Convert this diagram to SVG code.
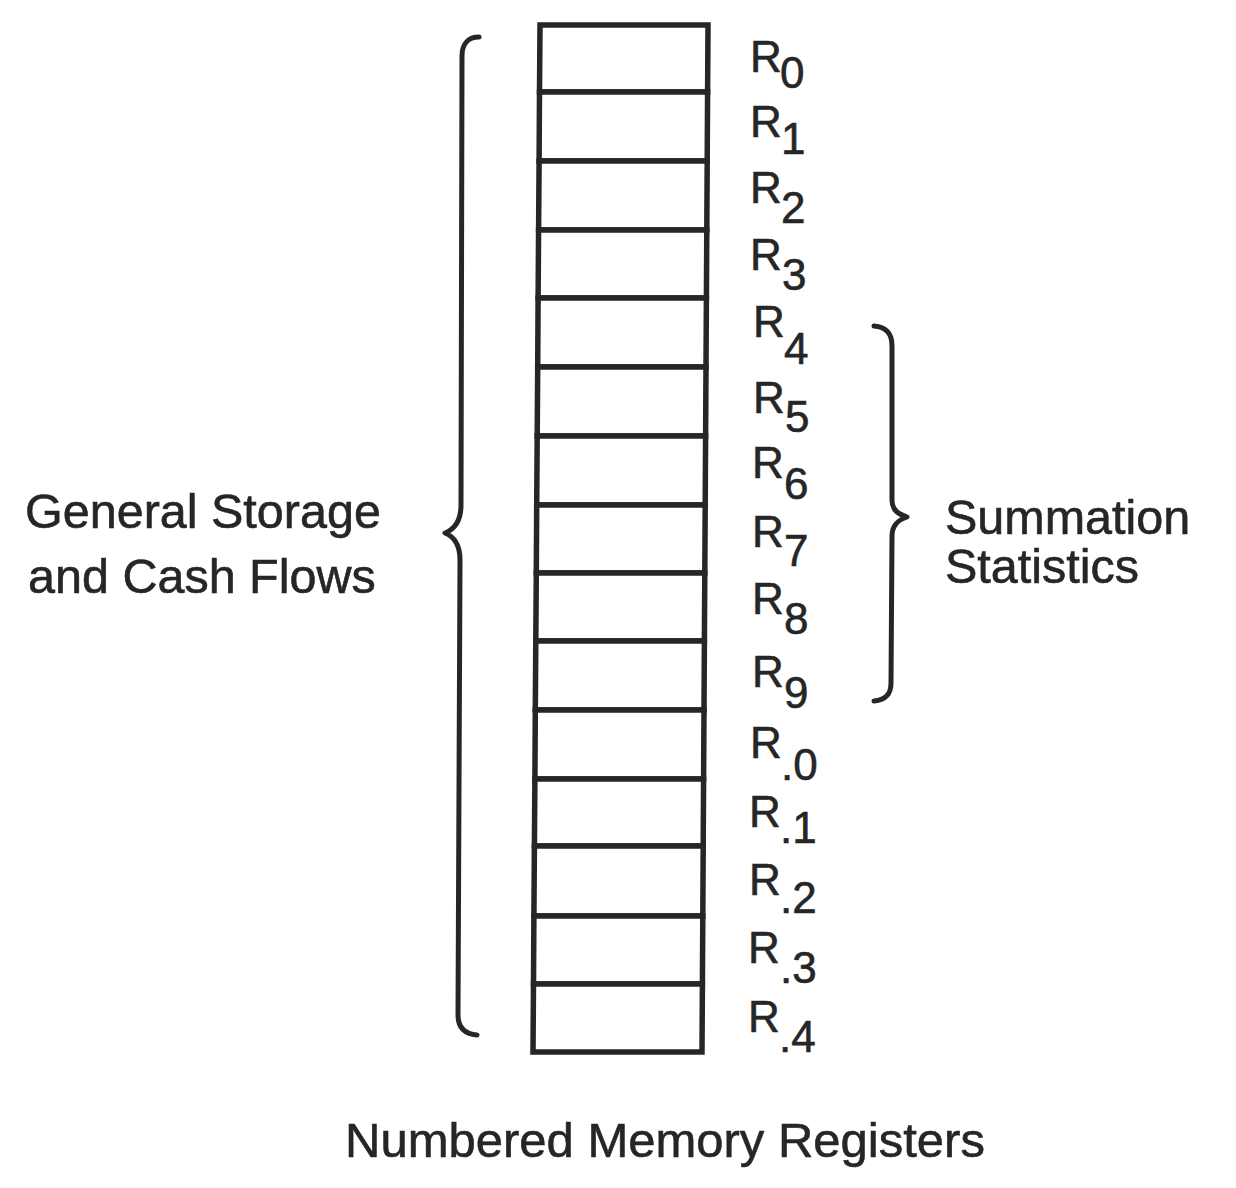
<svg xmlns="http://www.w3.org/2000/svg" width="1236" height="1188" viewBox="0 0 1236 1188">
<style>
.cell{fill:#fff;stroke:#262626;stroke-width:5.5;stroke-linejoin:miter}
.brace{fill:none;stroke:#262626;stroke-width:5;stroke-linecap:round;stroke-linejoin:round}
.lbl{font-family:"Liberation Sans",Arial,sans-serif;font-size:44px;fill:#262626;stroke:#262626;stroke-width:0.6}
.txt{font-family:"Liberation Sans",Arial,sans-serif;font-size:48.5px;fill:#262626;stroke:#262626;stroke-width:0.6}
</style>
<rect width="1236" height="1188" fill="#fff"/>
<g id="registers">
<g id="r0"><polygon class="cell" points="540,25 708,25 707.6,92 539.5,92"/><text class="lbl" x="750" y="72">R<tspan x="780" y="88">0</tspan></text></g>
<g id="r1"><polygon class="cell" points="539.5,92 707.6,92 707.2,161 539.1,161"/><text class="lbl" x="750" y="137">R<tspan x="781" y="154">1</tspan></text></g>
<g id="r2"><polygon class="cell" points="539.1,161 707.2,161 706.8,230 538.6,230"/><text class="lbl" x="750" y="203">R<tspan x="781" y="223">2</tspan></text></g>
<g id="r3"><polygon class="cell" points="538.6,230 706.8,230 706.4,298 538.1,298"/><text class="lbl" x="750" y="270">R<tspan x="782" y="290">3</tspan></text></g>
<g id="r4"><polygon class="cell" points="538.1,298 706.4,298 706,367 537.7,367"/><text class="lbl" x="753" y="337">R<tspan x="784" y="364">4</tspan></text></g>
<g id="r5"><polygon class="cell" points="537.7,367 706,367 705.6,436 537.2,436"/><text class="lbl" x="753" y="413">R<tspan x="785" y="432">5</tspan></text></g>
<g id="r6"><polygon class="cell" points="537.2,436 705.6,436 705.2,505 536.7,505"/><text class="lbl" x="752" y="478">R<tspan x="784" y="499">6</tspan></text></g>
<g id="r7"><polygon class="cell" points="536.7,505 705.2,505 704.8,573 536.3,573"/><text class="lbl" x="752" y="547">R<tspan x="784" y="566">7</tspan></text></g>
<g id="r8"><polygon class="cell" points="536.3,573 704.8,573 704.4,641 535.8,641"/><text class="lbl" x="752" y="614">R<tspan x="784" y="634">8</tspan></text></g>
<g id="r9"><polygon class="cell" points="535.8,641 704.4,641 704,710 535.3,710"/><text class="lbl" x="752" y="687">R<tspan x="784" y="708">9</tspan></text></g>
<g id="rp0"><polygon class="cell" points="535.3,710 704,710 703.6,779 534.9,779"/><text class="lbl" x="750" y="758">R<tspan x="781" y="780">.0</tspan></text></g>
<g id="rp1"><polygon class="cell" points="534.9,779 703.6,779 703.2,846 534.4,846"/><text class="lbl" x="749" y="827">R<tspan x="780" y="843">.1</tspan></text></g>
<g id="rp2"><polygon class="cell" points="534.4,846 703.2,846 702.8,916 533.9,916"/><text class="lbl" x="749" y="895">R<tspan x="780" y="913">.2</tspan></text></g>
<g id="rp3"><polygon class="cell" points="533.9,916 702.8,916 702.4,984 533.5,984"/><text class="lbl" x="748" y="963">R<tspan x="780" y="983">.3</tspan></text></g>
<g id="rp4"><polygon class="cell" points="533.5,984 702.4,984 702,1052 533,1052"/><text class="lbl" x="748" y="1032">R<tspan x="779" y="1052">.4</tspan></text></g>
</g>
<g id="connectors">
<path id="brace-left" class="brace" d="M479,37 C469,37 462,43 462,56 L461,505 C461,520 455,529 445,533 C455,537 460,546 460,560 L458,1015 C458,1028 465,1034 477,1035"/>
<path id="brace-right" class="brace" d="M874,326 C886,327 892,333 892,346 L892,500 C892,510 898,514 907,517 C898,520 892,525 892,536 L891,683 C891,695 885,700 874,701"/>
</g>
<g id="label-general">
<text class="txt" x="25" y="528">General Storage</text>
<text class="txt" x="28" y="593">and Cash Flows</text>
</g>
<g id="label-summation">
<text class="txt" x="945" y="534">Summation</text>
<text class="txt" x="945" y="583">Statistics</text>
</g>
<g id="title">
<text class="txt" x="345" y="1157" style="font-size:49px">Numbered Memory Registers</text>
</g>
</svg>
